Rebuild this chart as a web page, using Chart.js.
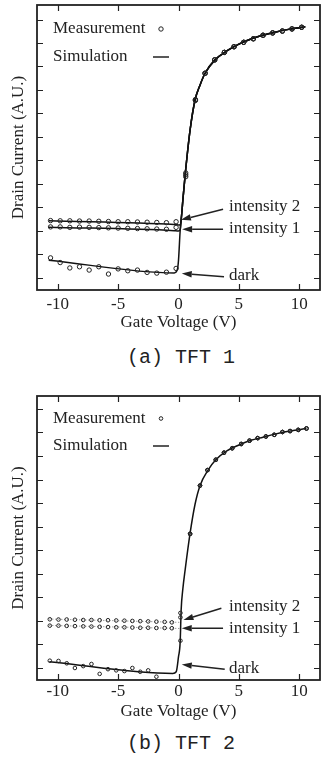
<!DOCTYPE html>
<html>
<head>
<meta charset="utf-8">
<script src="https://cdn.jsdelivr.net/npm/chart.js@4.4.1/dist/chart.umd.min.js"></script>
<style>
html, body { margin: 0; padding: 0; background: #fff; overflow: hidden; width: 321px; height: 760px; }
#wrap { position: relative; width: 321px; height: 760px; overflow: hidden; }
canvas { position: absolute; left: 0; }
.cap { position: absolute; left: 0; width: 362px; text-align: center; font-family: "Liberation Mono", monospace; font-size: 20px; line-height: 20px; color: #222; }
</style>
</head>
<body>
<div id="wrap">
  <canvas id="chart1" width="325" height="340" style="top:0px"></canvas>
  <div class="cap" style="top:348px">(a) TFT 1</div>
  <canvas id="chart2" width="325" height="345" style="top:380px"></canvas>
  <div class="cap" style="top:734px">(b) TFT 2</div>
</div>
<script>

// ---- (a) TFT 1 ----
var measV1 = [-10.6, -9.8, -9.0, -8.2, -7.4, -6.6, -5.8, -5.0, -4.2, -3.4, -2.6, -1.8, -1.0, -0.2,
    0.6, 1.4, 2.2, 3.0, 3.8, 4.6, 5.4, 6.2, 7.0, 7.8, 8.6, 9.4, 10.2];
var measDark1 = [1.84, 1.64, 1.41, 1.46, 1.32, 1.46, 1.15, 1.37, 1.29, 1.32, 1.22, 1.19, 1.23, 1.39,
    5.30, 8.55, 9.71, 10.28, 10.60, 10.84, 11.03, 11.18, 11.33, 11.43, 11.51, 11.60, 11.67];
var measInt1_1 = [3.16, 3.16, 3.14, 3.15, 3.14, 3.13, 3.12, 3.11, 3.10, 3.09, 3.08, 3.07, 3.06, 3.14,
    5.38, 8.57, 9.71, 10.28, 10.60, 10.84, 11.03, 11.18, 11.33, 11.43, 11.51, 11.60, 11.67];
var measInt2_1 = [3.43, 3.42, 3.42, 3.41, 3.41, 3.40, 3.39, 3.38, 3.38, 3.37, 3.36, 3.35, 3.34, 3.38,
    5.46, 8.59, 9.71, 10.28, 10.60, 10.84, 11.03, 11.18, 11.33, 11.43, 11.51, 11.60, 11.67];

var simV1 = [-10.75, -0.35, -0.1, 0, 0.14, 0.27, 0.36, 0.55, 0.96, 1.37, 1.78, 2.2, 3.0, 4.0, 5.0, 6.0, 7.0, 8.0, 9.0, 10.0, 10.5];
var simDark1 = [1.74, 1.20, 1.33, 1.74, 3.02, 3.73, 4.30, 5.37, 7.29, 8.57, 9.20, 9.71, 10.27, 10.66, 10.95, 11.17, 11.33, 11.46, 11.57, 11.65, 11.69];
var simInt1_1 = [3.15, 3.00, 2.99, 2.99, 3.05, 3.73, 4.30, 5.37, 7.29, 8.57, 9.20, 9.71, 10.27, 10.66, 10.95, 11.17, 11.33, 11.46, 11.57, 11.65, 11.69];
var simInt2_1 = [3.42, 3.26, 3.25, 3.24, 3.25, 3.73, 4.30, 5.37, 7.29, 8.57, 9.20, 9.71, 10.27, 10.66, 10.95, 11.17, 11.33, 11.46, 11.57, 11.65, 11.69];

// ---- (b) TFT 2 ----
var measV2 = [-10.66, -9.94, -9.26, -8.58, -7.89, -7.21, -6.53, -5.84, -5.16, -4.48, -3.82, -3.17, -2.51, -1.83, -1.15, -0.55,
    0.16, 0.96, 1.78, 2.40, 3.09, 3.77, 4.45, 5.19, 5.88, 6.56, 7.24, 7.93, 8.61, 9.24, 9.92, 10.6];
var measDark2 = [1.30, 1.29, 1.19, 0.99, 1.07, 1.16, 0.74, 0.94, 0.89, 0.86, 0.99, 0.83, 0.89, 0.62, null, null,
    2.15, 6.69, 8.74, 9.40, 9.84, 10.14, 10.33, 10.51, 10.65, 10.76, 10.83, 10.90, 11.02, 11.06, 11.11, 11.17];
var measInt1_2 = [2.79, 2.79, 2.78, 2.77, 2.76, 2.75, 2.74, 2.73, 2.72, 2.72, 2.71, 2.70, 2.70, 2.69, 2.69, 2.68,
    3.14, 6.69, 8.74, 9.40, 9.84, 10.14, 10.33, 10.51, 10.65, 10.76, 10.83, 10.90, 11.02, 11.06, 11.11, 11.17];
var measInt2_2 = [3.06, 3.05, 3.05, 3.04, 3.03, 3.03, 3.02, 3.02, 3.01, 3.00, 2.99, 2.98, 2.97, 2.96, 2.95, 2.93,
    3.33, 6.69, 8.74, 9.40, 9.84, 10.14, 10.33, 10.51, 10.65, 10.76, 10.83, 10.90, 11.02, 11.06, 11.11, 11.17];

var simV2 = [-10.7, -0.47, -0.19, 0, 0.14, 0.22, 0.36, 0.55, 0.96, 1.37, 1.78, 2.46, 3.09, 4.0, 5.0, 6.0, 7.0, 8.0, 9.0, 10.0, 10.6];
var simDark2 = [1.26, 0.76, 0.83, 1.47, 2.11, 3.46, 4.35, 5.16, 6.72, 7.95, 8.74, 9.41, 9.84, 10.22, 10.47, 10.67, 10.80, 10.93, 11.04, 11.12, 11.17];
var simIntV2 = [-10.7, 0.1];
var simInt1_2 = [2.80, 2.67];
var simInt2_2 = [3.07, 2.93];

// shared
var xTicks = [-10, -5, 0, 5, 10];
var seriesNames = ["Measurement", "Simulation"];
var curveNames = ["intensity 2", "intensity 1", "dark"];

var ink = "#222";
var serif = "'Liberation Serif', 'Times New Roman', serif";

function pts(xs, ys) {
    return xs.map(function(x, i) { return { x: x, y: ys[i] }; })
        .filter(function(p) { return p.y !== null; });
}

// frame + inward ticks on all four sides
var framePlugin = {
    id: 'frame',
    afterDatasetsDraw: function(chart) {
        var ctx = chart.ctx, a = chart.chartArea;
        var xs = chart.scales.x, ys = chart.scales.y;
        ctx.save();
        ctx.strokeStyle = ink;
        ctx.lineWidth = 1.2;
        ctx.beginPath();
        xs.ticks.forEach(function(t) {
            var px = Math.round(xs.getPixelForValue(t.value)) + 0.5;
            ctx.moveTo(px, a.bottom); ctx.lineTo(px, a.bottom - 6);
            ctx.moveTo(px, a.top); ctx.lineTo(px, a.top + 6);
        });
        ys.ticks.forEach(function(t) {
            var py = Math.round(ys.getPixelForValue(t.value)) + 0.5;
            ctx.moveTo(a.left, py); ctx.lineTo(a.left + 6, py);
            ctx.moveTo(a.right, py); ctx.lineTo(a.right - 6, py);
        });
        ctx.stroke();
        ctx.lineWidth = 1.8;
        ctx.strokeRect(a.left, a.top, a.right - a.left, a.bottom - a.top);
        ctx.restore();
    }
};

// legend (text then marker) and arrow labels
var notesPlugin = {
    id: 'notes',
    afterDraw: function(chart, args, opts) {
        var ctx = chart.ctx, a = chart.chartArea;
        var xs = chart.scales.x, ys = chart.scales.y;
        ctx.save();
        ctx.fillStyle = ink;
        ctx.strokeStyle = ink;
        ctx.font = "17px " + serif;
        ctx.textBaseline = "middle";
        ctx.textAlign = "left";

        // legend
        ctx.fillText(seriesNames[0], a.left + 16, a.top + opts.legendY[0]);
        ctx.fillText(seriesNames[1], a.left + 16, a.top + opts.legendY[1]);
        ctx.lineWidth = 1;
        ctx.beginPath();
        ctx.arc(a.left + 124, a.top + opts.legendY[0], opts.radius, 0, Math.PI * 2);
        ctx.stroke();
        ctx.lineWidth = 1.5;
        ctx.beginPath();
        ctx.moveTo(a.left + 116, a.top + opts.legendY[1]);
        ctx.lineTo(a.left + 132, a.top + opts.legendY[1]);
        ctx.stroke();

        // arrows
        opts.items.forEach(function(it, i) {
            var tx = xs.getPixelForValue(it.text[0]), ty = ys.getPixelForValue(it.text[1]);
            var ax = xs.getPixelForValue(it.tail[0]), ay = ys.getPixelForValue(it.tail[1]);
            var hx = xs.getPixelForValue(it.head[0]), hy = ys.getPixelForValue(it.head[1]);
            ctx.fillText(curveNames[i], tx, ty);
            var ang = Math.atan2(hy - ay, hx - ax);
            var len = 10, w = 3.2;
            var bx = hx - len * Math.cos(ang), by = hy - len * Math.sin(ang);
            ctx.lineWidth = 1.5;
            ctx.beginPath();
            ctx.moveTo(ax, ay);
            ctx.lineTo(bx, by);
            ctx.stroke();
            ctx.beginPath();
            ctx.moveTo(hx, hy);
            ctx.lineTo(bx + w * Math.sin(ang), by - w * Math.cos(ang));
            ctx.lineTo(bx - w * Math.sin(ang), by + w * Math.cos(ang));
            ctx.closePath();
            ctx.fill();
        });
        ctx.restore();
    }
};

function measSet(data, r) {
    return {
        data: data, showLine: false,
        pointStyle: 'circle', pointRadius: r, pointBorderWidth: 1,
        pointBorderColor: ink, pointBackgroundColor: 'rgba(0,0,0,0)'
    };
}

function simSet(data, dotted) {
    return {
        data: data, showLine: true, pointRadius: 0,
        borderColor: dotted ? '#777' : '#111',
        borderWidth: dotted ? 1 : 1.5,
        borderDash: dotted ? [1, 2] : [],
        cubicInterpolationMode: 'monotone',
        fill: false
    };
}

function makeChart(id, datasets, cfg) {
    return new Chart(document.getElementById(id), {
        type: 'scatter',
        data: { datasets: datasets },
        plugins: [framePlugin, notesPlugin],
        options: {
            responsive: false,
            animation: false,
            events: [],
            layout: { padding: { top: cfg.padTop, left: 0, right: 0, bottom: 0 } },
            plugins: {
                legend: { display: false },
                tooltip: { enabled: false },
                notes: { legendY: cfg.legendY, radius: cfg.radius, items: cfg.items }
            },
            scales: {
                x: {
                    type: 'linear', min: -11.72, max: 11.72,
                    grid: { display: false }, border: { display: false },
                    afterBuildTicks: function(scale) {
                        scale.ticks = xTicks.map(function(v) { return { value: v }; });
                    },
                    ticks: {
                        padding: cfg.tickPad, color: ink,
                        font: { family: serif, size: 17, lineHeight: 1 },
                        maxRotation: 0, includeBounds: false
                    },
                    title: {
                        display: true, text: 'Gate Voltage (V)', color: ink,
                        font: { family: serif, size: 17, lineHeight: 1.2 },
                        padding: { top: 0, bottom: cfg.titlePad }
                    },
                    afterFit: function(scale) { scale.height = cfg.xHeight; }
                },
                y: {
                    type: 'linear', min: cfg.yMin, max: cfg.yMax,
                    grid: { display: false }, border: { display: false },
                    ticks: { display: false, stepSize: 1, includeBounds: false },
                    title: {
                        display: true, text: 'Drain Current (A.U.)', color: ink,
                        font: { family: serif, size: 17, lineHeight: 1.2 },
                        padding: { top: 8, bottom: 0 }
                    },
                    afterFit: function(scale) { scale.width = 37; }
                }
            }
        }
    });
}

makeChart('chart1', [
    measSet(pts(measV1, measInt2_1), 2.2),
    measSet(pts(measV1, measInt1_1), 2.2),
    measSet(pts(measV1, measDark1), 2.2),
    simSet(pts(simV1, simInt2_1), false),
    simSet(pts(simV1, simInt1_1), false),
    simSet(pts(simV1, simDark1), false)
], {
    padTop: 5, xHeight: 50, tickPad: -1.5, titlePad: 7,
    yMin: 0.47, yMax: 12.62, legendY: [24, 52], radius: 2.2,
    items: [
        { text: [4.18, 4.02], tail: [3.69, 3.91], head: [0.2, 3.46] },
        { text: [4.18, 3.10], tail: [3.69, 3.06], head: [0.3, 3.06] },
        { text: [4.18, 1.07], tail: [3.77, 1.04], head: [0.27, 1.17] }
    ]
});

makeChart('chart2', [
    measSet(pts(measV2, measInt2_2), 1.8),
    measSet(pts(measV2, measInt1_2), 1.8),
    measSet(pts(measV2, measDark2), 1.8),
    simSet(pts(simIntV2, simInt2_2), true),
    simSet(pts(simIntV2, simInt1_2), true),
    simSet(pts(simV2, simDark2), false)
], {
    padTop: 16, xHeight: 45, tickPad: -5, titlePad: 3,
    yMin: 0.48, yMax: 12.55, legendY: [22.5, 50], radius: 1.8,
    items: [
        { text: [4.18, 3.59], tail: [3.55, 3.53], head: [0.41, 3.03] },
        { text: [4.18, 2.68], tail: [3.69, 2.68], head: [0.27, 2.68] },
        { text: [4.18, 0.97], tail: [3.83, 0.94], head: [0.27, 1.14] }
    ]
});

</script>
</body>
</html>
